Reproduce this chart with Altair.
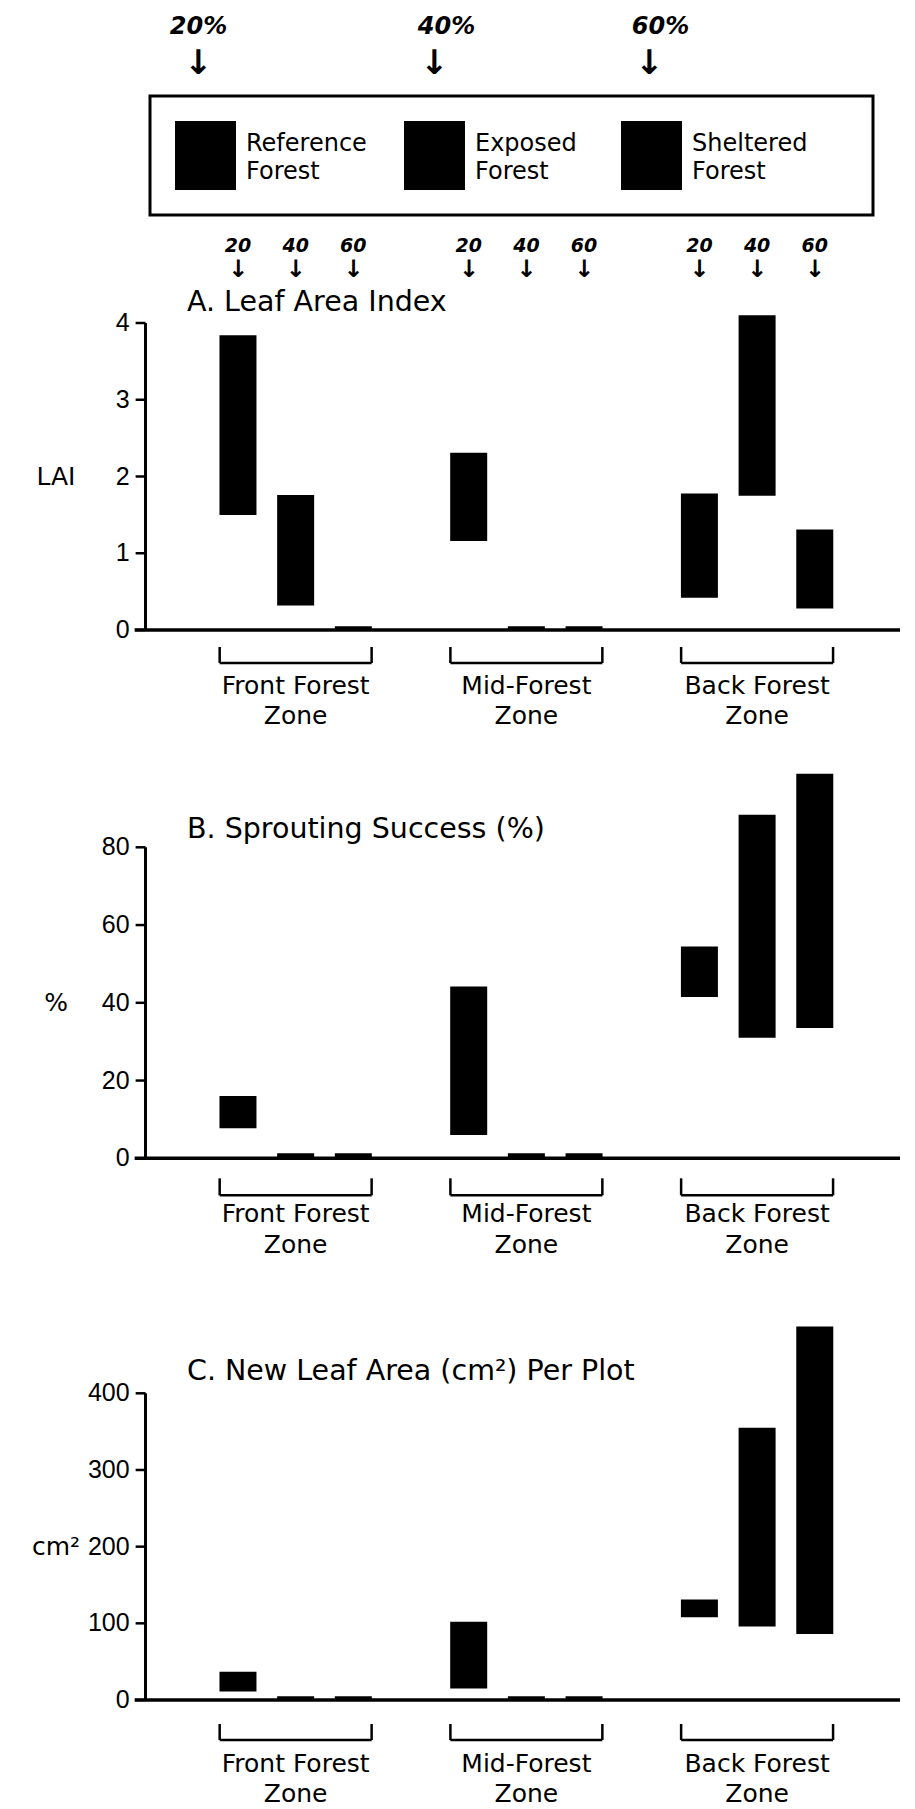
import altair as alt
import pandas as pd

# ---------------- data ----------------
ZONES = ["Front Forest", "Mid-Forest", "Back Forest"]
ZONE_WORD = "Zone"
SERIES_LINE1 = ["Reference", "Exposed", "Sheltered"]
SERIES_LINE2 = ["Forest", "Forest", "Forest"]
CUT_LEVELS = ["20", "40", "60"]
CUT_PERCENT = ["20%", "40%", "60%"]

# order: Front 20/40/60, Mid 20/40/60, Back 20/40/60
LAI_LOW = [1.50, 0.32, 0.00, 1.16, 0.00, 0.00, 0.42, 1.75, 0.28]
LAI_HIGH = [3.84, 1.76, 0.05, 2.31, 0.05, 0.05, 1.78, 4.10, 1.31]
SPROUT_LOW = [7.7, 0.0, 0.0, 6.0, 0.0, 0.0, 41.5, 31.0, 33.5]
SPROUT_HIGH = [16.0, 1.3, 1.3, 44.2, 1.3, 1.3, 54.5, 88.4, 98.9]
AREA_LOW = [11, 0, 0, 15, 0, 0, 108, 96, 86]
AREA_HIGH = [37, 5, 5, 102, 5, 5, 131, 355, 487]

LAI_TICKS = [0, 1, 2, 3, 4]
SPROUT_TICKS = [0, 20, 40, 60, 80]
AREA_TICKS = [0, 100, 200, 300, 400]

# ---------------- layout ----------------
W = 899
SLOT0 = 227.5      # px of first bar centre inside a row
SLOT = 58.33       # px between bar slots
BAR = 37
XMIN = -SLOT0 / SLOT
XMAX = XMIN + W / SLOT
AXIS_PX = 134
AXIS_X = (AXIS_PX - SLOT0) / SLOT
TICK_X = AXIS_X - 10 / SLOT
TLAB_X = AXIS_X - 16 / SLOT
BASE_L = (123 - SLOT0) / SLOT
BASE_R = (897 - SLOT0) / SLOT
HALF = BAR / 2 / SLOT

FONT = "DejaVu Sans"
TICK_FONT = "Liberation Sans"
HAND_FONT = "DejaVu Sans"

HEADER_H = 217
LEGEND_LEFT = [167, 396, 613]
PCT_DX = [-7, 12, 9]
ARROW_DX = [-7, 0, -2]

PANELS = [
    dict(title="A.  Leaf Area Index", ylabel="LAI", label_at=2, ticks=LAI_TICKS,
         low=LAI_LOW, high=LAI_HIGH, band=(225, 735), zero=630.0, ppu=76.75,
         title_base=311, bracket=(17, 33), lines=(64, 94), hand=True),
    dict(title="B.  Sprouting Success (%)", ylabel="%", label_at=40, ticks=SPROUT_TICKS,
         low=SPROUT_LOW, high=SPROUT_HIGH, band=(735, 1265), zero=1158.3, ppu=3.8875,
         title_base=838, bracket=(20, 37), lines=(64, 95), hand=False),
    dict(title="C.  New Leaf Area (cm²) Per Plot", ylabel="cm²", label_at=200, ticks=AREA_TICKS,
         low=AREA_LOW, high=AREA_HIGH, band=(1265, 1798), zero=1700.0, ppu=0.76675,
         title_base=1380, bracket=(24, 40), lines=(72, 102), hand=False),
]


def slot_of(zi, si):
    return zi * 4 + si


def header():
    df = pd.DataFrame({"line1": SERIES_LINE1, "line2": SERIES_LINE2, "pct": CUT_PERCENT,
                       "sx": LEGEND_LEFT})
    df["sx2"] = df["sx"] + 61
    df["cx"] = df["sx"] + 30.5
    df["px"] = df["cx"] + pd.Series(PCT_DX)
    df["ax"] = df["cx"] + pd.Series(ARROW_DX)
    df["lx"] = df["sx"] + 71
    df["arrow"] = "↓"
    base = alt.Chart(df)
    box = alt.Chart().mark_rect(fill="white", fillOpacity=0, stroke="black", strokeWidth=3).encode(
        x=alt.value(142), x2=alt.value(865), y=alt.value(88), y2=alt.value(207))
    sw = base.mark_rect(color="black").encode(
        x=alt.X("sx:Q", scale=None), x2="sx2:Q", y=alt.value(113), y2=alt.value(182))
    t1 = base.mark_text(font=FONT, fontSize=24, align="left", baseline="alphabetic", color="black").encode(
        x=alt.X("lx:Q", scale=None), y=alt.value(143), text="line1:N")
    t2 = base.mark_text(font=FONT, fontSize=24, align="left", baseline="alphabetic", color="black").encode(
        x=alt.X("lx:Q", scale=None), y=alt.value(171), text="line2:N")
    pct = base.mark_text(font=HAND_FONT, fontSize=24, fontWeight="bold", fontStyle="italic",
                         align="center", baseline="middle", color="black").encode(
        x=alt.X("px:Q", scale=None), y=alt.value(19), text="pct:N")
    arr = base.mark_text(font=HAND_FONT, fontSize=34, fontWeight="bold", align="center",
                         baseline="middle", color="black").encode(
        x=alt.X("ax:Q", scale=None), y=alt.value(56), text="arrow:N")
    return alt.layer(box, sw, t1, t2, pct, arr).properties(width=W, height=HEADER_H)


def panel(p):
    top, bot = p["band"]
    h = bot - top
    ymax = (p["zero"] - top) / p["ppu"]
    ymin = -(bot - p["zero"]) / p["ppu"]
    u = 1.0 / p["ppu"]
    xsc = alt.Scale(domain=[XMIN, XMAX], nice=False, zero=False)
    ysc = alt.Scale(domain=[ymin, ymax], nice=False, zero=False)

    rows = []
    for zi, z in enumerate(ZONES):
        for si in range(3):
            i = zi * 3 + si
            rows.append(dict(zone=z, series=SERIES_LINE1[si], cut=CUT_LEVELS[si],
                             slot=slot_of(zi, si), low=p["low"][i], high=p["high"][i]))
    bars_df = pd.DataFrame(rows)

    bars = alt.Chart(bars_df).mark_bar(size=BAR, color="black").encode(
        x=alt.X("slot:Q", scale=xsc, axis=None),
        y=alt.Y("low:Q", scale=ysc, axis=None),
        y2="high:Q",
    )

    tick_df = pd.DataFrame({"v": p["ticks"], "lab": [str(t) for t in p["ticks"]]})
    ticks = alt.Chart(tick_df).mark_rule(color="black", strokeWidth=2.5).encode(
        x=alt.XDatum(TICK_X, scale=xsc, axis=None), x2=alt.X2Datum(AXIS_X),
        y=alt.Y("v:Q", scale=ysc, axis=None))
    tlabels = alt.Chart(tick_df).mark_text(font=TICK_FONT, fontSize=25, align="right",
                                           baseline="middle", color="black").encode(
        x=alt.XDatum(TLAB_X, scale=xsc, axis=None),
        y=alt.Y("v:Q", scale=ysc, axis=None), text="lab:N")

    axis_line = alt.Chart().mark_rule(color="black", strokeWidth=3).encode(
        x=alt.XDatum(AXIS_X, scale=xsc, axis=None),
        y=alt.YDatum(0, scale=ysc, axis=None),
        y2=alt.Y2Datum(p["ticks"][-1]),
    )
    baseline = alt.Chart().mark_rule(color="black", strokeWidth=3.5).encode(
        x=alt.XDatum(BASE_L, scale=xsc, axis=None),
        x2=alt.X2Datum(BASE_R),
        y=alt.YDatum(0, scale=ysc, axis=None),
    )

    seg = []
    lab = []
    for zi, z in enumerate(ZONES):
        xl = slot_of(zi, 0) - HALF
        xr = slot_of(zi, 2) + HALF
        yt = -p["bracket"][0] * u
        yb = -p["bracket"][1] * u
        seg += [dict(x=xl, x2=xl, y=yt, y2=yb), dict(x=xr, x2=xr, y=yt, y2=yb),
                dict(x=xl, x2=xr, y=yb, y2=yb)]
        lab.append(dict(xc=(xl + xr) / 2, y1=-p["lines"][0] * u, y2=-p["lines"][1] * u,
                        t1=z, t2=ZONE_WORD))
    seg_df = pd.DataFrame(seg)
    lab_df = pd.DataFrame(lab)

    brackets = alt.Chart(seg_df).mark_rule(color="black", strokeWidth=2.5).encode(
        x=alt.X("x:Q", scale=xsc, axis=None), x2="x2:Q",
        y=alt.Y("y:Q", scale=ysc, axis=None), y2="y2:Q",
    )
    zl1 = alt.Chart(lab_df).mark_text(font=FONT, fontSize=25, align="center", baseline="alphabetic",
                                      color="black").encode(
        x=alt.X("xc:Q", scale=xsc, axis=None), y=alt.Y("y1:Q", scale=ysc, axis=None), text="t1:N")
    zl2 = alt.Chart(lab_df).mark_text(font=FONT, fontSize=25, align="center", baseline="alphabetic",
                                      color="black").encode(
        x=alt.X("xc:Q", scale=xsc, axis=None), y=alt.Y("y2:Q", scale=ysc, axis=None), text="t2:N")

    ylab = alt.Chart().mark_text(text=p["ylabel"], font=FONT, fontSize=25, align="center",
                                 baseline="middle", color="black").encode(
        x=alt.value(48), y=alt.YDatum(p["label_at"], scale=ysc, axis=None))
    title = alt.Chart().mark_text(text=p["title"], font=FONT, fontSize=28.5, align="left",
                                  baseline="alphabetic", color="black").encode(
        x=alt.value(179), y=alt.value(p["title_base"] - top))

    layers = [bars, axis_line, baseline, ticks, tlabels, brackets, zl1, zl2, ylab, title]

    if p["hand"]:
        hdf = bars_df[["slot", "cut"]].copy()
        hdf["arrow"] = "↓"
        nums = alt.Chart(hdf).mark_text(font=HAND_FONT, fontSize=19, fontWeight="bold",
                                        fontStyle="italic", align="center", baseline="middle",
                                        color="black").encode(
            x=alt.X("slot:Q", scale=xsc, axis=None), y=alt.value(21), text="cut:N")
        arrows = alt.Chart(hdf).mark_text(font=HAND_FONT, fontSize=24, fontWeight="bold",
                                          align="center", baseline="middle", color="black").encode(
            x=alt.X("slot:Q", scale=xsc, axis=None), y=alt.value(45), text="arrow:N")
        layers += [nums, arrows]

    return alt.layer(*layers).properties(width=W, height=h)


chart = alt.vconcat(header(), *[panel(p) for p in PANELS], spacing=0, bounds="flush").properties(
    padding=0, background="white"
).configure_view(stroke=None)

chart.save("out.html", embed_options={"renderer": "svg", "actions": False})
